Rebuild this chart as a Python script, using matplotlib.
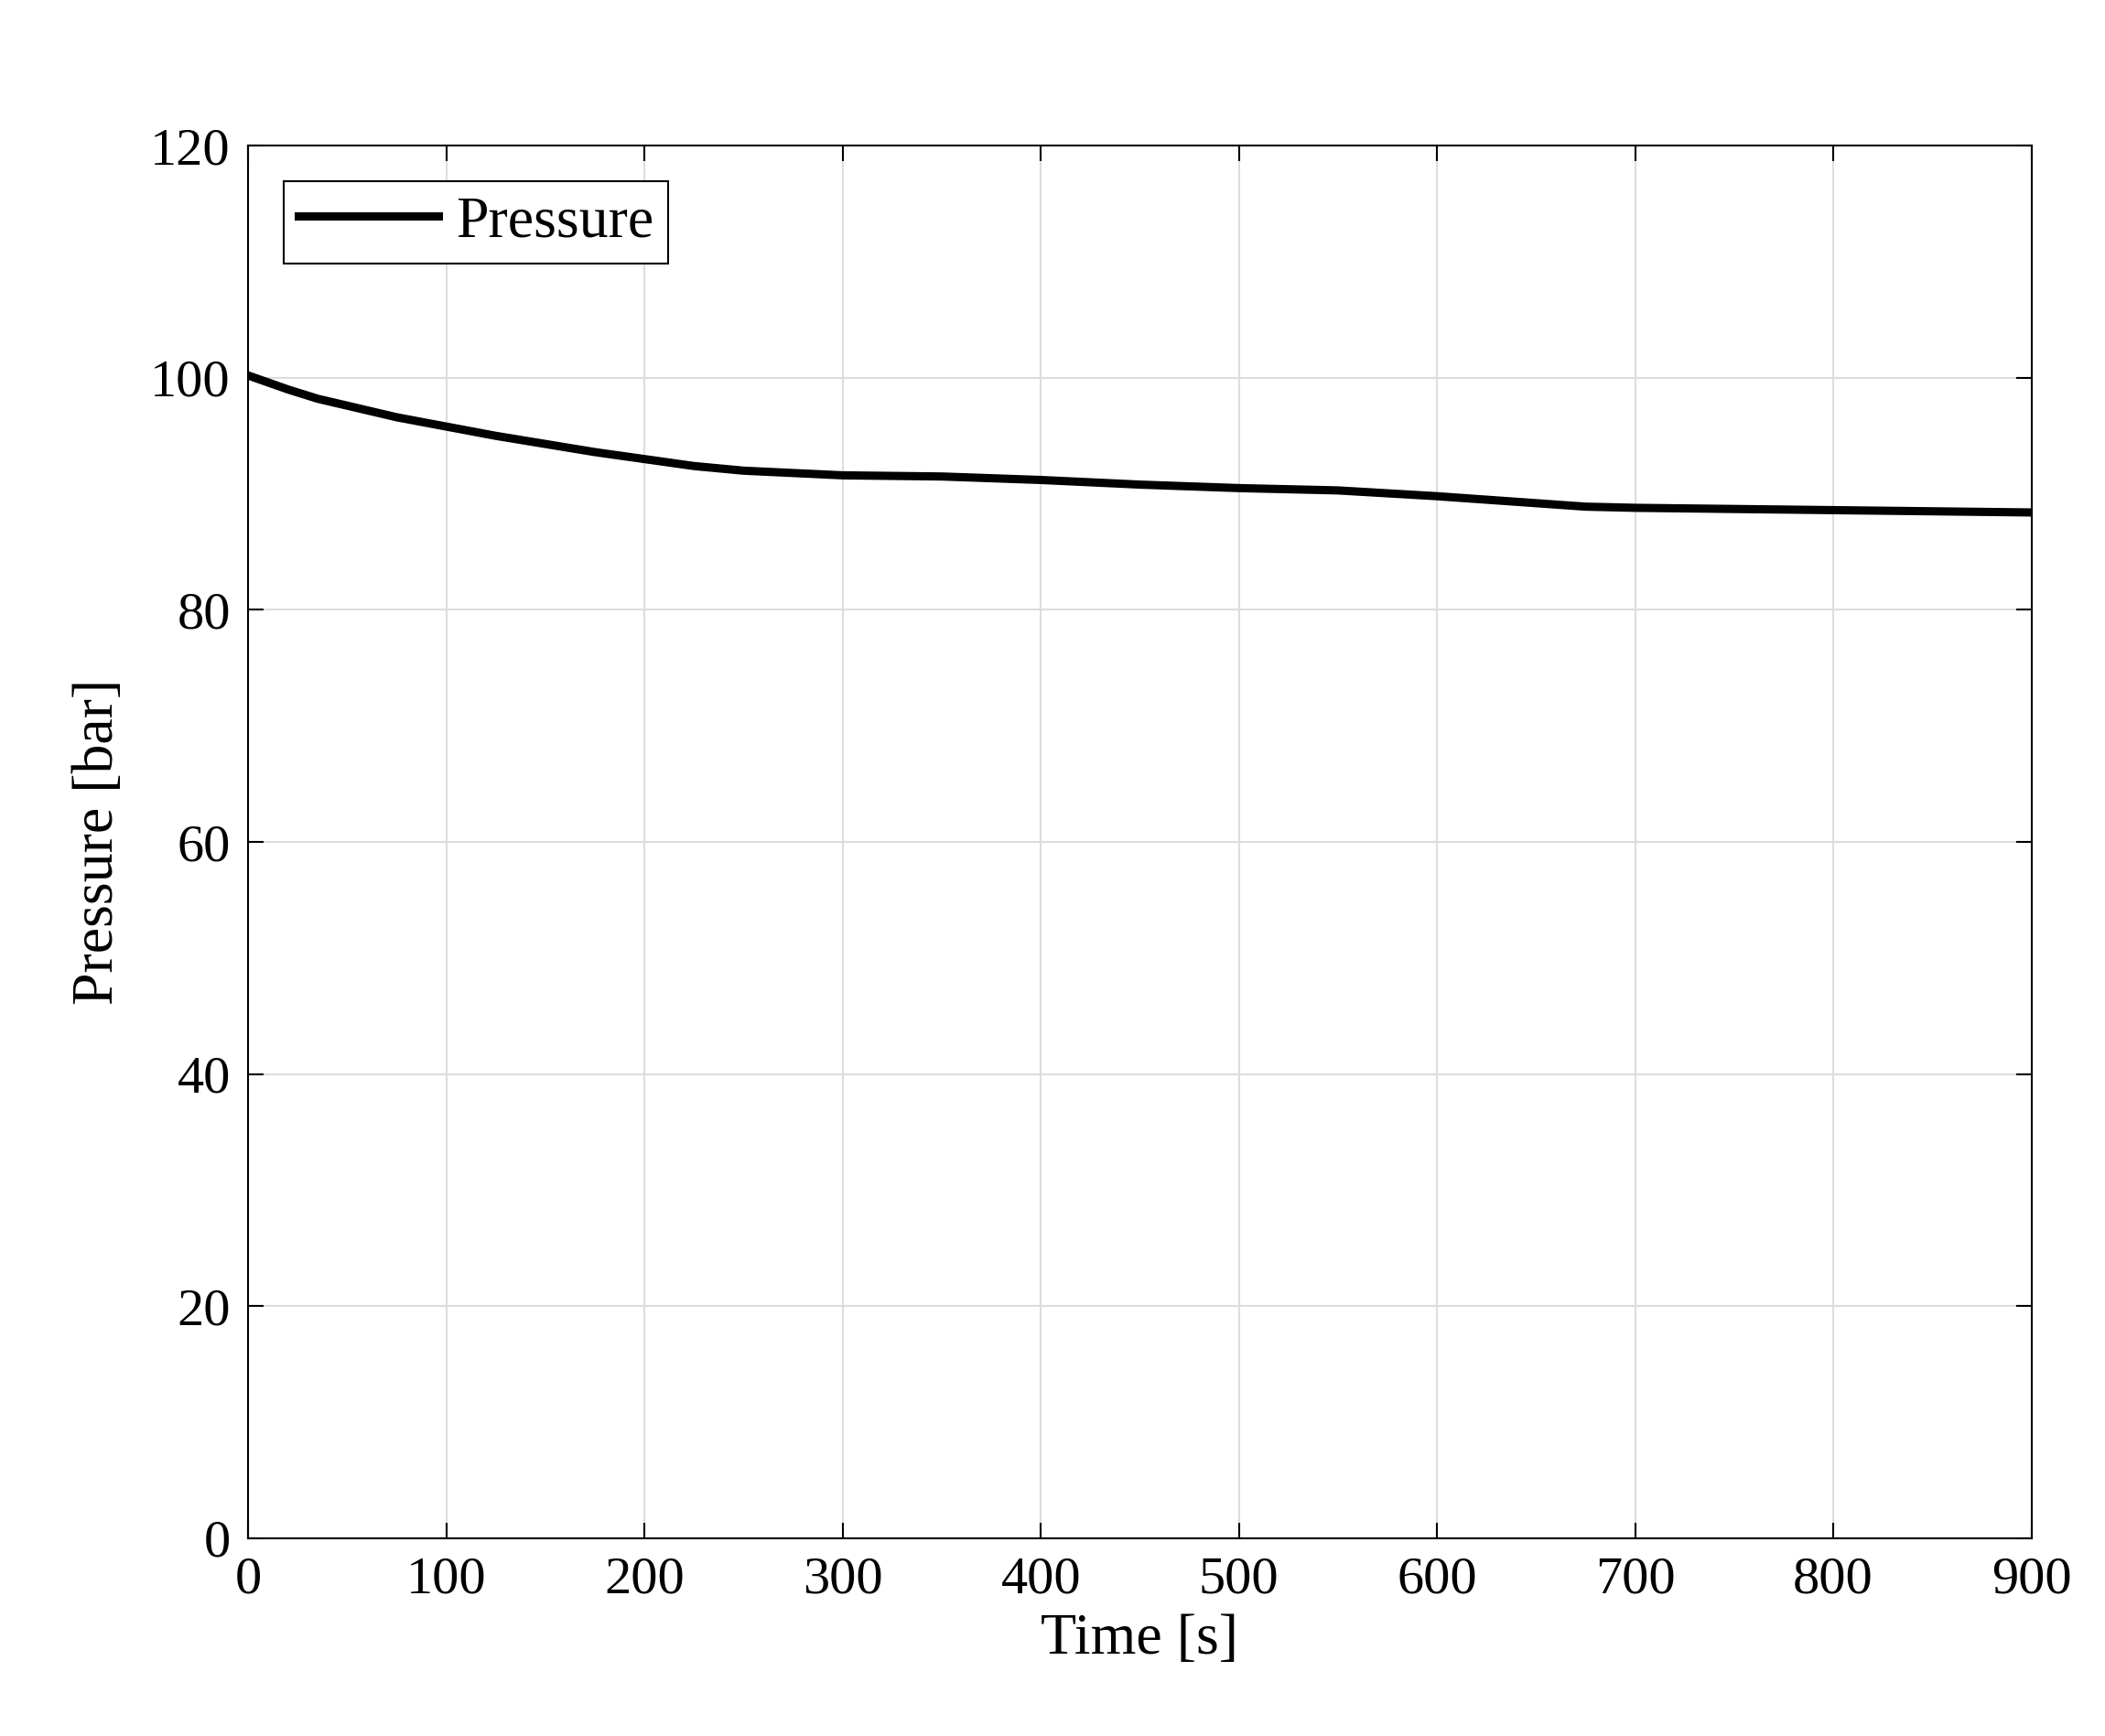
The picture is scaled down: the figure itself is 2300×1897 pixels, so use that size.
import matplotlib.pyplot as plt

plt.switch_backend('Agg')
plt.rcParams['font.family'] = ['Liberation Serif', 'DejaVu Serif']

# Pressure readings
time_s = [0, 10, 20, 35, 50, 75, 100, 125, 150, 175, 200, 225, 250, 275, 300,
          350, 400, 450, 500, 550, 600, 650, 675, 700, 750, 800, 850, 900]
pressure_bar = [100.2, 99.6, 99.0, 98.2, 97.6, 96.6, 95.8, 95.0, 94.3, 93.6, 93.0,
                92.4, 92.0, 91.8, 91.6, 91.5, 91.2, 90.8, 90.5, 90.3, 89.8, 89.2,
                88.9, 88.8, 88.7, 88.6, 88.5, 88.4]

fig = plt.figure(figsize=(23, 18.97), dpi=100)
ax = fig.add_axes([0.118, 0.114, 0.847, 0.802])
ax.plot(time_s, pressure_bar, color='black', linewidth=6.5, label='Pressure')

ax.set_xlim(0, 900)
ax.set_ylim(0, 120)
ax.set_xticks(range(0, 901, 100))
ax.set_yticks(range(0, 121, 20))
ax.grid(True, color='#dddddd', linewidth=1.5)
ax.tick_params(labelsize=42, direction='in', length=12, width=1.5, top=True, right=True, pad=14)
for s in ax.spines.values():
    s.set_linewidth(1.5)
ax.set_xlabel('Time [s]', fontsize=46, labelpad=8)
ax.set_ylabel('Pressure [bar]', fontsize=46, labelpad=20)

leg = ax.legend(loc='upper left', fontsize=46, fancybox=False, framealpha=1,
                edgecolor='black', handlelength=2.4, handletextpad=0.3,
                borderpad=0.25, borderaxespad=0.6)
leg.get_frame().set_linewidth(1.5)

fig.savefig('out.png', dpi=100)
